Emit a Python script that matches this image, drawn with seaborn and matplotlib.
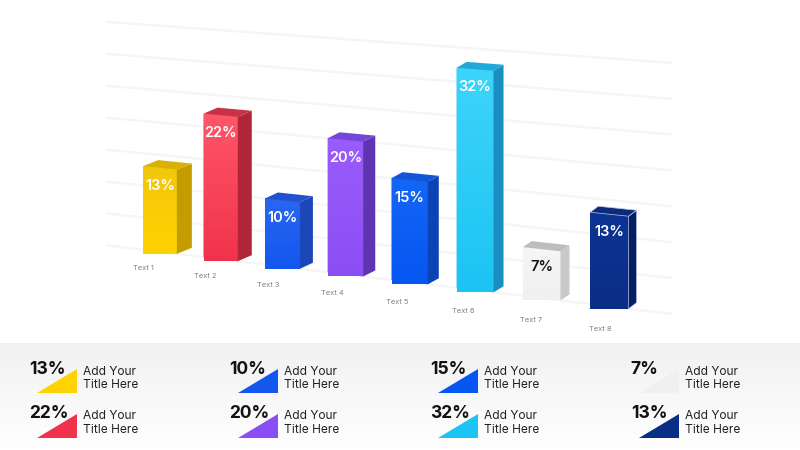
import numpy as np
import matplotlib
matplotlib.use("Agg")
import matplotlib.pyplot as plt
import seaborn as sns
from matplotlib.transforms import Transform, Affine2D, IdentityTransform
from matplotlib.patches import Polygon
from matplotlib.colors import LinearSegmentedColormap

# ---------------- data ----------------
categories = ["Text 1", "Text 2", "Text 3", "Text 4", "Text 5", "Text 6", "Text 7", "Text 8"]
values = [13, 22, 10, 20, 15, 32, 7, 13]
legend_title = "Add Your\nTitle Here"

# ---------------- style ----------------
front_colors = ["#FFD300", "#F0334B", "#1457EF", "#8A4EF4", "#0656F2", "#1CC4F3", "#F0F0F0", "#0A2E86"]
front_top = ["#F2C60C", "#FF5669", "#2A66F0", "#9A5CFA", "#1466F5", "#3DD4FA", "#F6F6F6", "#0D3494"]
side_colors = ["#C49C00", "#B02638", "#1B47B8", "#5E34B0", "#0A44B5", "#1A8EBF", "#C9C9C9", "#061F60"]
top_colors = ["#D8B200", "#C83246", "#2252CF", "#7546D8", "#1454D8", "#22A8D8", "#BDBDBD", "#0C2B78"]
edge_colors = ["none"] * 7 + ["#B8C6EC"]
label_colors = ["white"] * 6 + ["#111111", "white"]

sns.set_theme(style="white")
plt.rcParams["font.family"] = ["Inter", "DejaVu Sans"]

W, H = 800, 450


class Perspective(Transform):
    """Maps (category index, percent) to figure pixels with a simple perspective."""
    input_dims = 2
    output_dims = 2
    is_separable = False
    has_inverse = False

    def transform_non_affine(self, values):
        values = np.asarray(values, dtype=float).reshape(-1, 2)
        u, v = values[:, 0], values[:, 1]
        X = 160.0 + 60.0 * u + 0.6 * u ** 2
        y_base = 252.0 + 0.1215 * (X - 162.0)
        scale = 6.46 + 0.0014 * (X - 162.0)
        Y = y_base - v * scale
        return np.column_stack([X, H - Y])


persp = Perspective()

fig = plt.figure(figsize=(8, 4.5), dpi=100)
fig.patch.set_facecolor("white")

# background / legend layer in pixel coordinates
bg = fig.add_axes([0, 0, 1, 1], zorder=0)
grad = np.linspace(0, 1, 100).reshape(-1, 1)
bg.imshow(grad, cmap=LinearSegmentedColormap.from_list("bg", ["#F1F1F3", "#FFFFFF"]),
          extent=(0, W, H, 343), aspect="auto", origin="upper")
bg.set_xlim(0, W)
bg.set_ylim(H, 0)
bg.axis("off")

# main chart axes (full figure, transparent)
ax = fig.add_axes([0, 0, 1, 1], zorder=1)
ax.patch.set_alpha(0)
sns.barplot(x=categories, y=values, hue=categories, palette=front_colors, width=0.56,
            saturation=1, legend=False, ax=ax)
ax.axis("off")

# faint perspective gridlines
for g in range(0, 36, 5):
    ax.plot([-0.9, 7.9], [g, g], color="#F6F4F7", lw=1.6, transform=persp, zorder=0.5)

patches = sorted(ax.patches, key=lambda p: p.get_x())
for i, p in enumerate(patches):
    x0, w, h = p.get_x(), p.get_width(), p.get_height()
    p.set_transform(persp)
    p.set_edgecolor("none")
    p.set_zorder(3)

    bl, br, trc, tl = persp.transform(np.array([(x0, 0), (x0 + w, 0), (x0 + w, h), (x0, h)]))
    # vertical gradient on the front face
    cm = LinearSegmentedColormap.from_list(f"g{i}", [front_colors[i], front_top[i]])
    im = ax.imshow(np.linspace(0, 1, 64).reshape(-1, 1), cmap=cm,
                   extent=(bl[0], br[0], min(bl[1], br[1]), max(tl[1], trc[1])),
                   origin="lower", aspect="auto", zorder=3.1, interpolation="bilinear",
                   transform=IdentityTransform())
    im.set_clip_path(p)

    d = np.array([15.0 - 1.0 * i, 6.0])
    ec = edge_colors[i]
    ax.add_patch(Polygon([br, trc, trc + d, br + d], closed=True, transform=IdentityTransform(),
                         fc=side_colors[i], ec=ec, lw=0.5, zorder=3.2))
    ax.add_patch(Polygon([tl, trc, trc + d, tl + d], closed=True, transform=IdentityTransform(),
                         fc=top_colors[i], ec=ec, lw=0.5, zorder=3.2))
    ax.text(x0 + w / 2, h, f"{values[i]}%", transform=persp + Affine2D().translate(0, -18),
            ha="center", va="center", color=label_colors[i], fontsize=10.5,
            fontweight="semibold", zorder=5)
    ax.text(x0 + w / 2 - 0.27 + 0.02 * i, 0, categories[i],
            transform=persp + Affine2D().translate(0, -18 - 0.85 * i),
            ha="center", va="center", color="#808080", fontsize=5.4, zorder=5)

ax.set_xlim(-1, 8)
ax.set_ylim(0, 40)

# legend grid (4 columns x 2 rows)
for k in range(len(values)):
    col, row = k // 2, k % 2
    xb = 29 + col * 200.6
    yb = 369.5 + row * 44.5
    bg.add_patch(Polygon([(xb + 8, yb + 23.5), (xb + 48, yb + 23.5), (xb + 48, yb - 0.5)], closed=True,
                         fc=front_colors[k], ec="none", zorder=2))
    bg.text(xb, yb, f"{values[k]}%", ha="left", va="center", fontsize=12.5, fontweight="bold",
            color="#111111", zorder=3)
    bg.text(xb + 54, yb + 9, legend_title, ha="left", va="center", fontsize=8.6, color="#222222",
            linespacing=1.2, zorder=3)

fig.savefig("out.png", dpi=100)
